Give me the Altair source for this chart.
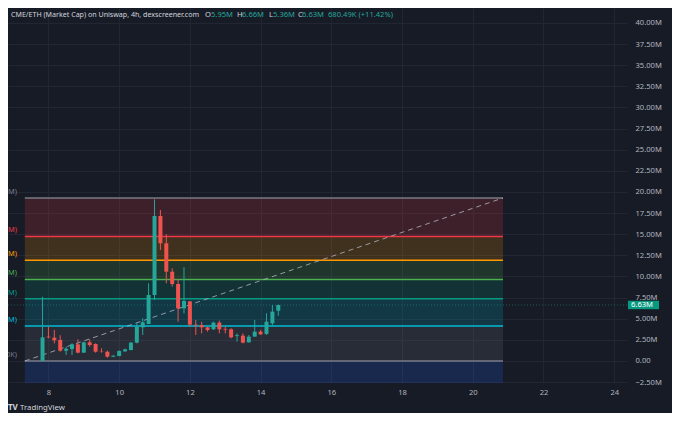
import altair as alt
import pandas as pd

# ---- candle data (4h candles, x = day of month) ----
start_day = 7.8333
opens  = [0.02, 2.88, 2.76, 2.49, 1.22, 1.42, 1.97, 0.99, 2.21, 2.01, 1.12, 1.10, 0.51, 0.59, 1.14, 1.30,
          2.17, 3.98, 4.38, 7.81, 17.16, 13.93, 10.57, 9.11, 6.23, 7.05, 4.30, 4.26, 3.98, 3.75, 4.54,
          3.80, 3.75, 2.95, 3.00, 2.21, 2.88, 3.47, 3.20, 4.46, 5.95]
highs  = [7.60, 4.06, 3.67, 3.04, 1.70, 2.09, 2.56, 2.29, 2.56, 2.09, 1.50, 1.22, 0.70, 1.25, 1.45, 2.25,
          4.46, 5.05, 9.19, 19.13, 17.87, 15.00, 10.97, 9.70, 11.10, 7.10, 4.85, 4.65, 4.06, 4.65, 4.77,
          4.06, 3.87, 3.27, 3.27, 3.08, 4.85, 3.67, 5.64, 6.63, 6.66]
lows   = [0.00, 2.68, 2.09, 1.10, 0.71, 0.71, 0.91, 0.95, 1.70, 0.99, 0.99, 0.39, 0.45, 0.55, 1.10, 1.25,
          2.09, 3.08, 4.38, 7.22, 13.14, 9.20, 8.80, 4.65, 5.64, 4.06, 3.08, 3.27, 3.47, 3.67, 3.27,
          3.27, 2.68, 2.29, 2.09, 2.17, 2.88, 3.08, 3.08, 4.26, 5.36]
closes = [2.80, 2.80, 2.45, 1.22, 1.46, 1.97, 0.99, 2.21, 1.89, 1.10, 1.08, 0.51, 0.63, 1.18, 1.38, 2.17,
          4.06, 4.58, 7.81, 17.16, 13.93, 10.57, 9.11, 6.23, 7.10, 4.30, 4.22, 3.98, 3.67, 4.54, 3.75,
          3.72, 2.80, 3.05, 2.17, 2.88, 3.47, 3.16, 4.65, 5.84, 6.63]

# ---- fib retracement levels (M) ----
fib_levels = [19.29, 14.74, 11.92, 9.65, 7.37, 4.13, 0.0]
fib_colors = ["#787b86", "#f23645", "#ff9800", "#4caf50", "#089981", "#00bcd4", "#787b86"]
fib_labels = ["M)", "M)", "M)", "M)", "M)", "M)", "0K)"]
ext_level = -11.92            # 1.618 extension (blue zone, off chart)
ext_color = "#2962ff"
fib_x_start, fib_x_end = 7.332, 20.855

y_ticks = [-2.5, 0, 2.5, 5, 7.5, 10, 12.5, 15, 17.5, 20, 22.5, 25, 27.5, 30, 32.5, 35, 37.5, 40]
x_ticks = [8, 10, 12, 14, 16, 18, 20, 22, 24]

UP, DOWN = "#26a69a", "#ef5350"
BG = "#171b26"
TXT = "#b2b5be"

candles = pd.DataFrame({
    "day": [start_day + i / 6 for i in range(len(opens))],
    "open": opens, "high": highs, "low": lows, "close": closes,
})
candles["dir"] = ["up" if c >= o else "down" for o, c in zip(opens, closes)]

zones = pd.DataFrame({
    "top": fib_levels,
    "bottom": fib_levels[1:] + [ext_level],
    "color": fib_colors[1:] + [ext_color],
    "x1": fib_x_start, "x2": fib_x_end,
})
lines = pd.DataFrame({"level": fib_levels, "color": fib_colors, "label": fib_labels,
                      "x1": fib_x_start, "x2": fib_x_end})
trend = pd.DataFrame({"day": [fib_x_start, fib_x_end], "v": [fib_levels[-1], fib_levels[0]]})

last_close = closes[-1]
price = pd.DataFrame({"v": [last_close], "top": [last_close + 0.5], "bot": [last_close - 0.5],
                      "txt": [f"{last_close:.2f}M"]})

xs = alt.Scale(domain=[6.998, 24.22], nice=False, zero=False)
ys = alt.Scale(domain=[-2.604, 41.775], nice=False, zero=False)

X = lambda f: alt.X(f, type="quantitative", scale=xs,
                    axis=alt.Axis(values=x_ticks, title=None, grid=True, gridColor="#222633",
                                  domain=False, ticks=False, labelColor=TXT, labelFontSize=7.6,
                                  labelPadding=5, labelFont="Noto Sans"))
Y = lambda f: alt.Y(f, type="quantitative", scale=ys,
                    axis=alt.Axis(values=y_ticks, orient="right", title=None, grid=True,
                                  gridColor="#222633", domain=False, ticks=False,
                                  labelColor=TXT, labelFontSize=7.6, labelPadding=8,
                                  labelAlign="left", labelFont="Noto Sans",
                                  labelExpr="datum.value == 0 ? '0.00' : format(datum.value, '.2f') + 'M'"))

zone_layer = alt.Chart(zones).mark_rect(opacity=0.18, clip=True).encode(
    x=X("x1"), x2="x2", y=Y("top"), y2="bottom",
    color=alt.Color("color:N", scale=None))

line_layer = alt.Chart(lines).mark_rule(strokeWidth=1.5).encode(
    x=X("x1"), x2="x2", y=Y("level"), color=alt.Color("color:N", scale=None))

label_layer = alt.Chart(lines).mark_text(align="right", baseline="bottom", dy=-2,
                                         fontSize=7.4, font="Noto Sans").encode(
    x=alt.value(9), y=Y("level"), text="label:N", color=alt.Color("color:N", scale=None))

trend_layer = alt.Chart(trend).mark_line(strokeDash=[5, 4], color="#b2b5be", strokeWidth=1,
                                         opacity=0.8).encode(x=X("day"), y=Y("v"))

price_line = alt.Chart(price).mark_rule(strokeDash=[1, 2], color=UP, opacity=0.45).encode(y=Y("v"))

cscale = alt.Scale(domain=["up", "down"], range=[UP, DOWN])
wick_layer = alt.Chart(candles).mark_rule(strokeWidth=1).encode(
    x=X("day"), y=Y("low"), y2="high", color=alt.Color("dir:N", scale=cscale, legend=None))
body_layer = alt.Chart(candles).mark_bar(size=4).encode(
    x=X("day"), y=Y("open"), y2="close", color=alt.Color("dir:N", scale=cscale, legend=None))

price_box = alt.Chart(price).mark_rect(color="#089981").encode(
    x=alt.value(620), x2=alt.value(651), y=Y("top"), y2="bot")
price_txt = alt.Chart(price).mark_text(align="left", baseline="middle", color="#ffffff",
                                       fontSize=7.6, font="Noto Sans").encode(
    x=alt.value(623), y=Y("v"), text="txt:N")

# header
hdr_parts = [("CME/ETH (Market Cap) on Uniswap, 4h, dexscreener.com", 3, "#d1d4dc", 7.1),
             ("O", 197, "#d1d4dc", 7.6), ("5.95M", 203, UP, 7.6),
             ("H", 229, "#d1d4dc", 7.6), ("6.66M", 234, UP, 7.6),
             ("L", 261, "#d1d4dc", 7.6), ("5.36M", 265, UP, 7.6),
             ("C", 290, "#d1d4dc", 7.6), ("6.63M", 294, UP, 7.6),
             ("680.49K (+11.42%)", 320, UP, 7.6)]
hdr_layers = [alt.Chart(pd.DataFrame({"t": [t]})).mark_text(
    align="left", baseline="middle", fontSize=fs, font="Noto Sans", color=c).encode(
    x=alt.value(px), y=alt.value(7), text="t:N") for t, px, c, fs in hdr_parts]

logo = alt.Chart(pd.DataFrame({"t": ["TV"]})).mark_text(
    align="left", baseline="middle", fontSize=8, fontWeight="bold", font="Noto Sans",
    color="#d1d4dc").encode(x=alt.value(0), y=alt.value(400), text="t:N")
logo_txt = alt.Chart(pd.DataFrame({"t": ["TradingView"]})).mark_text(
    align="left", baseline="middle", fontSize=7.8, font="Noto Sans", color="#d1d4dc").encode(
    x=alt.value(12), y=alt.value(400), text="t:N")

chart = alt.layer(zone_layer, line_layer, trend_layer, price_line, wick_layer, body_layer,
                  label_layer, price_box, price_txt, *hdr_layers, logo, logo_txt).properties(
    width=619, height=375, background=BG,
    padding={"left": 0, "top": 0, "right": 45, "bottom": 30},
    autosize=alt.AutoSizeParams(type="none"),
).configure_view(stroke=None)

chart.save("out.html", embed_options={"renderer": "svg", "actions": False})
